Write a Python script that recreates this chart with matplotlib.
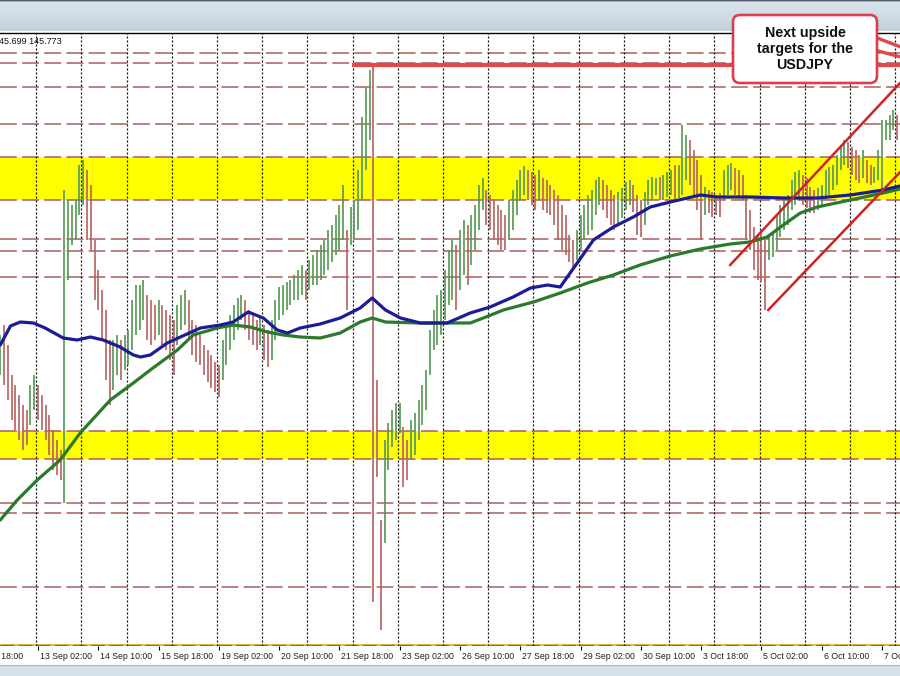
"""USDJPY H1: zonas amarillas, medias móviles y objetivos al alza."""

import matplotlib
matplotlib.use("Agg")
import numpy as np
import matplotlib.pyplot as plt
import matplotlib.transforms as mtransforms
from matplotlib.patches import FancyBboxPatch, Rectangle

plt.rcParams["font.family"] = ["Liberation Sans", "DejaVu Sans"]

# ── Barras de 2 horas (un renglón = un día, 12 barras) ───────────────
hi = [
    143.25, 143.35, 143.15, 142.85, 142.75, 142.65, 142.55, 142.50, 142.75, 142.85, 142.75, 142.65,
    142.55, 142.45, 142.30, 142.20, 142.10, 144.70, 144.60, 144.55, 144.60, 144.95, 145.00, 144.90,
    144.75, 144.20, 143.90, 143.70, 143.50, 143.20, 143.20, 143.25, 143.20, 143.25, 143.30, 143.60,
    143.75, 143.75, 143.80, 143.65, 143.60, 143.55, 143.60, 143.55, 143.50, 143.45, 143.40, 143.55,
    143.65, 143.70, 143.60, 143.40, 143.35, 143.25, 143.15, 143.10, 143.05, 142.98, 142.95, 143.20,
    143.35, 143.45, 143.55, 143.62, 143.65, 143.60, 143.50, 143.45, 143.40, 143.42, 143.35, 143.30,
    143.40, 143.60, 143.73, 143.75, 143.78, 143.80, 143.85, 143.90, 143.95, 143.90, 144.00, 144.05,
    144.10, 144.15, 144.20, 144.30, 144.35, 144.45, 144.55, 144.75, 144.30, 144.53, 144.60, 144.90,
    145.43, 145.73, 145.90, 145.95, 142.80, 141.40, 142.20, 142.37, 142.50, 142.57, 142.57, 142.33,
    142.20, 142.40, 142.47, 142.60, 142.75, 142.90, 143.30, 143.50, 143.65, 143.70, 143.90, 144.10,
    144.20, 144.15, 144.30, 144.40, 144.35, 144.45, 144.55, 144.75, 144.82, 144.70, 144.65, 144.60,
    144.55, 144.50, 144.45, 144.60, 144.70, 144.80, 144.90, 144.94, 144.90, 144.88, 144.85, 144.90,
    144.82, 144.80, 144.75, 144.70, 144.65, 144.55, 144.45, 144.25, 144.20, 144.30, 144.45, 144.55,
    144.65, 144.70, 144.80, 144.83, 144.80, 144.75, 144.70, 144.65, 144.68, 144.72, 144.78, 144.80,
    144.75, 144.65, 144.60, 144.68, 144.80, 144.83, 144.82, 144.83, 144.85, 144.88, 144.90, 144.95,
    144.95, 145.35, 145.25, 145.20, 145.10, 145.00, 144.85, 144.73, 144.70, 144.68, 144.65, 144.67,
    144.90, 144.95, 144.97, 144.92, 144.90, 144.85, 144.65, 144.50, 144.33, 144.25, 144.27, 144.20,
    144.25, 144.27, 144.45, 144.55, 144.60, 144.65, 144.80, 144.88, 144.90, 144.85, 144.82, 144.73,
    144.70, 144.72, 144.75, 144.90, 144.93, 144.95, 145.05, 145.15, 145.20, 145.18, 145.13, 145.10,
    145.05, 145.10, 145.00, 144.95, 144.93, 145.10, 145.40, 145.40, 145.45, 145.50, 145.45,
]
lo = [
    142.85, 142.75, 142.60, 142.40, 142.30, 142.20, 142.10, 142.15, 142.35, 142.50, 142.40, 142.30,
    142.20, 142.05, 141.90, 141.85, 141.80, 141.57, 143.80, 144.15, 144.20, 144.45, 144.55, 144.20,
    144.10, 143.60, 143.50, 143.20, 142.80, 142.55, 142.70, 142.85, 142.80, 142.90, 142.95, 143.10,
    143.25, 143.30, 143.40, 143.20, 143.15, 143.20, 143.25, 143.15, 143.10, 143.00, 142.85, 143.15,
    143.30, 143.35, 143.20, 143.05, 142.98, 142.95, 142.85, 142.78, 142.72, 142.68, 142.63, 142.80,
    142.95, 143.10, 143.20, 143.30, 143.40, 143.30, 143.20, 143.15, 143.10, 143.15, 143.00, 142.93,
    143.00, 143.20, 143.40, 143.45, 143.50, 143.55, 143.60, 143.60, 143.65, 143.60, 143.70, 143.75,
    143.75, 143.80, 143.85, 143.90, 143.98, 144.05, 144.10, 144.20, 143.50, 144.15, 144.20, 144.30,
    144.60, 144.90, 145.20, 140.58, 141.83, 140.30, 141.17, 141.90, 142.13, 142.20, 142.27, 141.73,
    141.80, 142.00, 142.05, 142.20, 142.35, 142.50, 142.85, 143.10, 143.15, 143.25, 143.40, 143.55,
    143.60, 143.50, 143.70, 143.85, 143.75, 143.95, 144.10, 144.30, 144.50, 144.35, 144.30, 144.20,
    144.15, 144.10, 144.10, 144.20, 144.30, 144.45, 144.60, 144.65, 144.60, 144.55, 144.50, 144.60,
    144.50, 144.47, 144.45, 144.35, 144.20, 144.10, 144.05, 143.98, 143.93, 144.00, 144.10, 144.20,
    144.25, 144.30, 144.45, 144.55, 144.50, 144.42, 144.35, 144.30, 144.35, 144.42, 144.50, 144.55,
    144.48, 144.25, 144.23, 144.35, 144.55, 144.60, 144.65, 144.60, 144.60, 144.63, 144.65, 144.60,
    144.62, 144.65, 144.80, 144.75, 144.65, 144.50, 144.20, 144.45, 144.47, 144.43, 144.45, 144.43,
    144.60, 144.65, 144.70, 144.65, 144.63, 144.60, 144.20, 144.10, 143.90, 143.80, 143.78, 143.50,
    144.00, 144.03, 144.10, 144.23, 144.30, 144.35, 144.50, 144.55, 144.60, 144.55, 144.52, 144.47,
    144.47, 144.50, 144.53, 144.60, 144.65, 144.70, 144.75, 144.90, 144.95, 144.92, 144.85, 144.80,
    144.77, 144.82, 144.77, 144.75, 144.77, 144.80, 144.70, 145.20, 145.20, 145.30, 145.20,
]

# ── Medias móviles (x = índice de barra) ─────────────────────────────
ma100_x = [0, 2.7, 5.3, 8.8, 11.9, 16.7, 20.4, 23.9, 27.3, 31.8, 35.3, 37.2, 39.8, 44.3, 47.8,
           53.1, 58.4, 61.8, 65.8, 69.8, 73.5, 76.2, 79.6, 84.9, 90.2, 95.5, 98.7, 102.2, 106.2,
           111.5, 118.6, 124.7, 130.0, 136.1, 140.7, 145.2, 148.6, 153.1, 157.4, 162.7, 168.0,
           172.5, 177.8, 185.8, 190.3, 199.0, 207.8, 216.8, 225.6, 234.3, 238.8]
ma100 = [143.15, 143.34, 143.38, 143.37, 143.32, 143.22, 143.20, 143.23, 143.20, 143.13, 143.05,
         143.03, 143.05, 143.17, 143.23, 143.32, 143.35, 143.38, 143.48, 143.42, 143.30, 143.27,
         143.32, 143.36, 143.42, 143.52, 143.62, 143.50, 143.42, 143.37, 143.37, 143.47, 143.53,
         143.63, 143.72, 143.75, 143.73, 143.97, 144.20, 144.33, 144.43, 144.53, 144.58, 144.65,
         144.63, 144.63, 144.62, 144.62, 144.65, 144.70, 144.74]
ma200_x = [0, 4.5, 9.8, 15.9, 21.2, 29.2, 35.3, 39.8, 47.0, 51.2, 57.6, 61.8, 66.3, 70.9, 75.1,
           79.6, 84.9, 90.2, 95.5, 98.7, 102.2, 111.5, 120.2, 124.7, 128.2, 133.5, 141.5, 148.6,
           155.8, 162.7, 169.8, 177.8, 185.8, 193.7, 199.0, 203.5, 207.8, 212.3, 216.8, 225.6,
           234.3, 238.8]
ma200 = [141.40, 141.60, 141.80, 142.00, 142.27, 142.60, 142.77, 142.90, 143.10, 143.25, 143.32,
         143.35, 143.33, 143.28, 143.25, 143.23, 143.22, 143.27, 143.38, 143.42, 143.38, 143.37,
         143.37, 143.37, 143.42, 143.50, 143.58, 143.67, 143.77, 143.85, 143.95, 144.04, 144.11,
         144.16, 144.18, 144.23, 144.35, 144.47, 144.53, 144.60, 144.67, 144.71]

# ── Niveles y líneas dibujadas a mano ────────────────────────────────
niveles = [146.07, 145.97, 145.73, 145.36, 145.03, 144.60, 144.21, 144.09, 143.83,
           142.29, 142.01, 141.57, 141.47, 140.73]
zonas = [(144.60, 145.03), (142.01, 142.29)]
maximo = 145.955            # máximo del 22 sep (línea roja gruesa)
maximo_desde = 93.4
canal_x = [(193.7, 241.5), (203.8, 241.5)]
canal_y = [(143.95, 145.88), (143.50, 144.985)]
flecha_x = [(232.0, 239.0), (232.0, 239.0)]
flecha_y = [(146.23, 146.13), (146.10, 146.03)]
separadores = [9.5 + 12 * k for k in range(20)]

tick_pos = [-6, 10, 26, 42, 58, 74, 90, 106, 122, 138, 154, 170, 186, 202, 218, 234]
tick_lab = ["12 Sep 18:00", "13 Sep 02:00", "14 Sep 10:00", "15 Sep 18:00", "19 Sep 02:00",
            "20 Sep 10:00", "21 Sep 18:00", "23 Sep 02:00", "26 Sep 10:00", "27 Sep 18:00",
            "29 Sep 02:00", "30 Sep 10:00", "3 Oct 18:00", "5 Oct 02:00", "6 Oct 10:00",
            "7 Oct 18:00"]

XLIM = (-0.08, 238.77)
YLIM = (140.14, 146.27)
COLOR_UP = "#5a9a5a"
COLOR_DN = "#b86666"
COLOR_NIVEL = "#a85e5e"

W, H = 900, 676
fig = plt.figure(figsize=(W / 100, H / 100), dpi=100)
fig.patch.set_facecolor("white")

ax = fig.add_axes([0, 30 / H, 1, 613 / H])
for lado in ("left", "right", "bottom"):
    ax.spines[lado].set_visible(False)
ax.spines["top"].set_color("black")
ax.spines["top"].set_linewidth(1.0)
ax.set_yticks([])

# zonas amarillas
for a, b in zonas:
    ax.axhspan(a, b, color="#ffff00", lw=0, zorder=0.5)

# niveles discontinuos
for y in niveles:
    ax.axhline(y, color=COLOR_NIVEL, lw=1.1, ls=(0, (11, 3.5)), zorder=1)

# borde inferior dorado
ax.axhline(140.155, color="#d9c24a", lw=2.2, zorder=1)
ax.axhline(140.155, color="#8a6a40", lw=0.9, ls=(0, (11, 3.5)), zorder=1.1)

# separadores verticales punteados
for x in separadores:
    ax.axvline(x, color="#111111", lw=0.9, ls=(0, (1.6, 1.6)), zorder=1.5)

# barras
idx = np.arange(len(hi))
mid = (np.array(hi) + np.array(lo)) / 2
sube = np.r_[True, np.diff(mid) > 0]
ax.vlines(idx, lo, hi, colors=np.where(sube, COLOR_UP, COLOR_DN), lw=1.25, zorder=3)

# medias móviles
ax.plot(ma200_x, ma200, color="#2b7a2b", lw=2.3, zorder=4, solid_capstyle="round")
ax.plot(ma100_x, ma100, color="#1c1c96", lw=2.3, zorder=4.1, solid_capstyle="round")

# línea del máximo y canal
ax.hlines(maximo, maximo_desde, XLIM[1], color="#e34848", lw=3.0, zorder=5)
for xs, ys in zip(canal_x, canal_y):
    ax.plot(xs, ys, color="#cc2424", lw=1.8, zorder=5)
for xs, ys in zip(flecha_x, flecha_y):
    ax.plot(xs, ys, color="#e34848", lw=2.4, zorder=5)

# eje de tiempo
ax.set_xticks(tick_pos[1:], tick_lab[1:])
ax.tick_params(axis="x", direction="out", length=3, width=0.8, pad=1.0,
               labelsize=6.3, labelcolor="#202020", color="black")
desplaza = mtransforms.ScaledTranslation(2 / 100, 0, fig.dpi_scale_trans)
for lab in ax.get_xticklabels():
    lab.set_horizontalalignment("left")
    lab.set_transform(lab.get_transform() + desplaza)

# la primera etiqueta queda fuera de la vista: solo asoma "18:00"
primera = mtransforms.blended_transform_factory(ax.transData, ax.transAxes)
primera += mtransforms.ScaledTranslation(-7 / 100, -4 / 72, fig.dpi_scale_trans)
ax.text(tick_pos[0], 0, tick_lab[0], transform=primera, fontsize=6.3, color="#202020",
        ha="left", va="top", clip_on=False)

# los límites al final: set_xticks los amplía
ax.set_xlim(*XLIM)
ax.set_ylim(*YLIM)

# cabecera con degradado
ax_h = fig.add_axes([0, (H - 31) / H, 1, 31 / H])
t = np.linspace(0, 1, 31)[:, None]
img = np.array([0.86, 0.90, 0.93]) * (1 - t) + np.array([0.77, 0.82, 0.87]) * t
img[0] = [0.33, 0.37, 0.42]
img[1] = [0.62, 0.67, 0.72]
ax_h.imshow(np.repeat(img[:, None, :], 2, axis=1), aspect="auto", extent=(0, 1, 0, 1))
ax_h.axis("off")

# barra inferior
fig.add_artist(Rectangle((0, 0), 1, 11 / H, transform=fig.transFigure,
                         facecolor="#d6e0ea", edgecolor="none", zorder=2))
fig.add_artist(plt.Line2D([0, 1], [11 / H, 11 / H], transform=fig.transFigure,
                          color="#a9b5c2", lw=0.8, zorder=2))

# texto de precios arriba a la izquierda
fig.text(-6 / W, (H - 42) / H, "145.699 145.773", fontsize=6.5, color="#111111",
         ha="left", va="center")

# recuadro con el comentario
caja = FancyBboxPatch((733, H - 83), 144, 68, boxstyle="round,pad=0,rounding_size=7",
                      transform=mtransforms.IdentityTransform(),
                      facecolor="white", edgecolor="#d9404f", lw=1.9, zorder=6)
fig.add_artist(caja)
fig.text(805 / W, (H - 49) / H, "Next upside\ntargets for the\nUSDJPY",
         ha="center", va="center", fontsize=10.3, fontweight="bold",
         color="#111111", linespacing=1.2, zorder=7)

fig.savefig("out.png", dpi=100)
